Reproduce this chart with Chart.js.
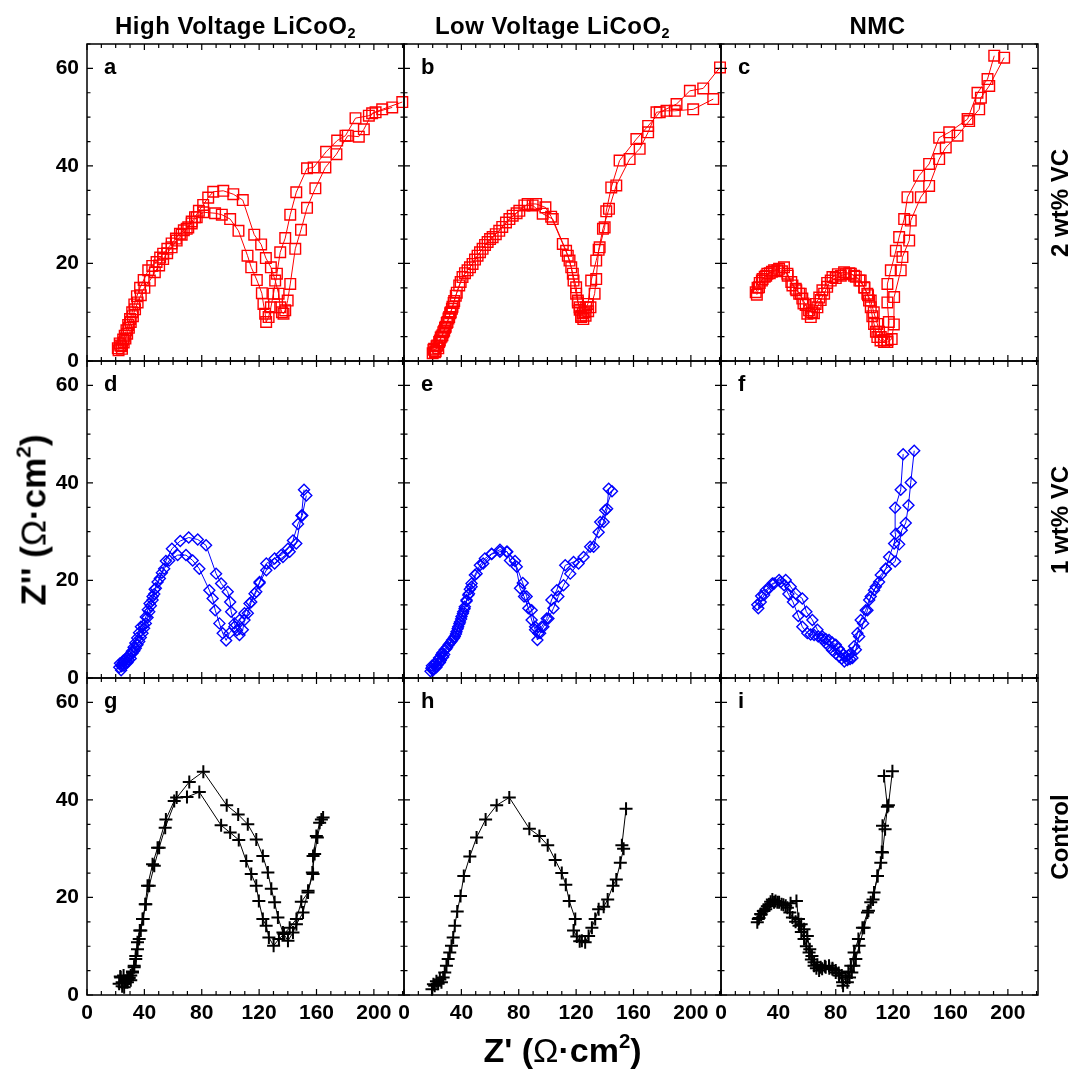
<!DOCTYPE html>
<html><head><meta charset="utf-8">
<script src="https://cdn.jsdelivr.net/npm/chart.js@4.4.0/dist/chart.umd.min.js"></script>
<style>
body{margin:0;background:#fff;width:1075px;height:1072px;position:relative;overflow:hidden;font-family:"Liberation Sans",Arial,sans-serif;}
.t{position:absolute;white-space:nowrap;font-weight:bold;color:#000;line-height:1;}
.rot{transform:translate(-50%,-50%) rotate(-90deg);}
sub{font-size:60%;vertical-align:-0.3em;line-height:0;}
sup{font-size:60%;vertical-align:0.7em;line-height:0;}
.om{font-weight:normal;}
</style></head><body>
<script>
// ---------------- DATA ----------------
const columnTitles = ["High Voltage LiCoO<sub>2</sub>", "Low Voltage LiCoO<sub>2</sub>", "NMC"];
const rowTitles = ["2 wt% VC", "1 wt% VC", "Control"];
const panelLetters = ["a","b","c","d","e","f","g","h","i"];
const xTickLabels = [0, 40, 80, 120, 160, 200];
const yTickLabels = [0, 20, 40, 60];

// Panel a (High V LiCoO2, 2 wt% VC)
const a1 = [[21.5,2.6],[22.8,3.6],[24.0,3.0],[25.2,4.4],[26.3,5.2],[27.5,6.3],[28.7,7.4],[30.0,8.6],[31.5,10.0],[33.0,11.6],[34.8,13.3],[37.0,15.0],[39.5,16.6],[42.7,18.6],[45.5,19.5],[48.5,20.3],[51.0,21.2],[53.1,22.0],[56.0,23.0],[59.0,24.1],[62.0,25.1],[64.8,26.1],[67.5,26.8],[70.6,27.4],[73.0,28.6],[75.3,29.5],[78.0,30.8],[81.0,32.0],[84.5,33.5],[88.0,34.7],[95.0,34.9],[102.0,34.2],[108.6,33.0],[116.6,25.9],[121.4,23.9],[124.7,21.1],[128.2,19.2],[131.2,16.5],[133.6,13.8],[134.7,11.0],[135.9,10.0],[137.0,9.7],[138.2,10.4],[139.9,12.4],[141.7,15.8],[145.2,23.0],[149.2,26.9],[153.4,31.4],[159.2,35.4],[166.2,39.7],[173.9,42.4],[181.8,46.2],[189.5,46.0],[193.0,47.5],[198.8,50.8],[205.8,51.6],[219.8,53.1]];
const a2 = [[22.0,2.2],[23.2,3.2],[24.4,2.5],[25.6,3.8],[26.8,4.6],[28.0,5.6],[29.2,6.8],[30.5,8.0],[32.0,9.2],[33.5,10.6],[35.3,12.0],[37.5,13.5],[40.0,15.0],[43.8,16.5],[47.3,18.2],[50.3,19.6],[53.1,20.9],[55.9,22.1],[59.0,23.3],[62.5,24.7],[66.0,25.9],[69.5,27.1],[73.0,28.2],[76.5,29.5],[81.1,30.5],[89.3,30.3],[94.0,30.0],[99.8,29.1],[105.6,26.7],[111.9,21.6],[114.5,19.2],[118.4,16.6],[121.9,13.9],[123.0,11.7],[124.2,9.7],[124.9,8.0],[126.6,9.0],[128.2,11.0],[130.0,13.8],[132.4,17.9],[134.7,22.3],[138.2,25.2],[141.7,30.0],[145.9,34.6],[153.4,39.5],[158.0,39.7],[166.7,42.9],[174.4,45.2],[180.2,46.2],[187.2,49.8],[196.5,50.3],[201.2,51.0],[212.8,52.0]];
// Panel b (Low V LiCoO2, 2 wt% VC)
const b1 = [[20.0,1.6],[21.0,2.5],[22.1,2.0],[23.2,3.2],[24.5,3.9],[25.6,4.8],[26.8,5.3],[28.0,6.2],[29.1,7.0],[30.3,8.0],[31.5,9.0],[32.6,10.0],[33.8,11.1],[35.0,12.3],[36.1,13.4],[38.5,15.5],[40.8,17.2],[44.3,18.6],[47.8,19.9],[51.3,21.6],[54.8,23.0],[58.3,24.4],[61.8,25.4],[66.4,26.7],[71.1,28.4],[75.8,29.8],[80.4,30.8],[86.2,32.2],[92.1,32.2],[98.6,31.5],[102.6,29.6],[110.7,24.0],[114.2,21.6],[116.6,19.2],[118.2,16.5],[120.0,13.8],[121.2,12.0],[122.4,11.0],[123.5,9.3],[124.7,9.8],[125.9,10.0],[127.0,11.0],[128.2,11.7],[130.5,16.5],[134.0,20.6],[136.4,23.3],[139.9,27.4],[141.0,30.7],[144.5,35.6],[150.3,41.1],[162.0,45.5],[170.2,48.2],[178.3,51.0],[190.0,52.7],[199.3,55.4],[208.6,55.9],[220.3,60.2]];
const b2 = [[20.5,2.3],[21.6,1.8],[22.7,3.0],[23.9,2.6],[25.0,4.2],[26.2,5.0],[27.4,5.9],[28.6,6.8],[29.8,7.8],[31.0,8.7],[32.2,9.8],[33.4,10.7],[34.6,11.9],[36.8,14.0],[39.5,16.2],[42.5,18.0],[46.0,19.2],[49.5,20.8],[53.0,22.3],[56.5,23.8],[60.0,25.0],[64.0,26.0],[68.5,27.5],[73.5,29.1],[78.5,30.3],[83.9,31.9],[89.7,31.9],[96.7,30.2],[103.7,29.1],[113.0,22.6],[115.4,20.6],[117.7,17.9],[120.0,15.1],[121.2,12.4],[122.5,10.5],[123.5,9.0],[125.0,8.6],[126.6,9.3],[128.4,10.2],[130.0,11.0],[132.9,13.8],[134.0,16.8],[135.7,22.8],[138.7,27.1],[142.9,31.2],[148.0,36.0],[157.3,41.4],[164.3,43.5],[170.2,46.9],[176.0,51.0],[183.0,51.3],[188.8,51.3],[201.6,51.6],[215.6,53.7]];
// Panel c (NMC, 2 wt% VC)
const c1 = [[24.2,14.1],[25.5,15.0],[27.0,16.0],[29.0,16.8],[31.5,17.5],[34.0,18.0],[37.0,18.6],[40.5,18.9],[43.9,19.2],[46.5,17.5],[49.8,15.5],[52.5,14.5],[55.6,13.8],[57.5,11.8],[60.2,9.7],[62.6,9.0],[64.8,9.8],[67.2,11.0],[69.5,12.5],[71.9,13.8],[74.0,15.2],[76.5,16.5],[80.0,17.0],[83.5,17.5],[87.0,17.8],[90.5,17.9],[94.0,17.3],[97.4,16.5],[100.0,15.0],[102.0,13.8],[103.2,12.4],[104.4,11.0],[105.5,9.2],[106.7,7.6],[108.0,6.0],[109.0,4.9],[111.2,4.2],[113.7,3.9],[116.0,4.3],[117.0,8.0],[116.0,12.0],[116.0,15.8],[118.4,18.6],[121.9,22.6],[124.2,25.4],[127.7,29.1],[130.0,33.6],[138.1,38.0],[145.1,40.4],[152.1,45.8],[159.1,46.9],[171.9,49.6],[178.8,55.0],[185.8,57.8],[190.5,62.6]];
const c2 = [[25.0,13.6],[26.5,15.1],[28.5,16.5],[30.5,17.3],[32.3,17.9],[35.5,18.3],[39.3,18.6],[42.5,18.4],[46.3,17.9],[49.0,16.2],[52.1,14.8],[54.5,13.8],[56.7,12.8],[59.0,11.5],[61.4,10.4],[63.5,10.0],[66.0,11.7],[68.5,13.0],[70.7,14.5],[74.0,16.0],[77.7,17.2],[81.5,17.8],[85.8,18.2],[89.5,18.0],[92.8,17.5],[96.5,16.5],[99.8,15.1],[102.5,13.5],[104.4,12.4],[106.5,10.0],[109.0,7.6],[110.2,6.0],[111.4,4.9],[113.5,4.3],[116.0,3.9],[119.0,4.5],[120.5,7.5],[120.7,13.1],[125.3,18.6],[126.5,21.3],[131.2,24.7],[132.3,28.8],[139.3,33.6],[145.1,35.9],[152.1,41.4],[156.7,43.8],[164.9,46.2],[173.0,49.2],[180.0,51.6],[181.2,54.0],[187.0,56.4],[197.4,62.2]];
// Panel d (High V LiCoO2, 1 wt% VC)
const d1 = [[22.5,2.2],[23.8,1.6],[24.7,3.1],[25.8,2.5],[27.0,3.7],[28.2,3.2],[29.4,4.4],[30.5,4.0],[31.7,5.1],[33.0,5.6],[34.0,6.1],[35.2,6.8],[36.4,7.5],[37.5,8.3],[38.7,9.2],[39.8,10.2],[41.0,11.2],[42.2,12.4],[43.4,13.6],[44.5,14.8],[45.7,16.0],[46.9,17.2],[48.0,18.4],[50.8,20.4],[53.8,22.4],[57.3,24.1],[63.2,25.2],[69.0,25.2],[73.7,24.1],[78.3,22.4],[85.3,18.0],[87.6,16.3],[89.4,13.9],[92.3,11.2],[94.6,9.2],[97.0,7.7],[99.3,9.2],[102.8,10.5],[106.3,11.9],[109.8,13.3],[113.3,15.3],[116.8,17.3],[120.3,19.5],[125.0,22.1],[130.8,23.5],[136.6,24.8],[141.3,25.9],[145.9,27.6],[149.5,33.3],[151.3,38.6]];
const d2 = [[23.0,3.0],[24.2,2.4],[25.4,3.6],[26.6,3.0],[27.8,4.2],[29.0,3.8],[30.2,4.9],[31.3,5.5],[32.5,6.3],[33.7,7.2],[35.0,8.2],[36.3,9.3],[37.6,10.5],[39.5,10.8],[41.0,12.5],[42.4,14.0],[43.6,15.3],[45.7,16.7],[47.2,18.2],[49.2,19.7],[52.2,21.6],[55.0,24.0],[59.2,26.5],[65.0,28.1],[70.9,28.8],[77.2,28.4],[83.0,27.2],[90.0,21.4],[93.5,19.4],[98.1,17.7],[99.8,15.6],[100.5,13.6],[102.8,11.2],[104.5,9.8],[106.3,8.8],[108.6,9.9],[109.8,11.9],[112.1,13.3],[114.5,15.6],[118.0,17.7],[120.3,19.7],[125.0,23.5],[130.8,24.5],[135.4,25.2],[140.1,26.5],[143.6,28.2],[147.1,31.6],[150.1,33.3],[152.9,37.4]];
// Panel e (Low V LiCoO2, 1 wt% VC)
const e1 = [[18.5,1.4],[19.1,2.0],[20.2,1.6],[21.4,2.7],[22.6,2.2],[23.8,3.7],[25.0,3.2],[26.1,4.8],[27.3,4.3],[28.4,5.8],[30.0,6.3],[31.9,7.1],[33.6,7.8],[35.4,8.5],[36.6,9.5],[37.8,10.5],[39.0,11.5],[40.1,12.6],[41.3,13.6],[42.4,14.6],[43.6,15.8],[44.8,17.0],[45.9,18.2],[47.1,19.4],[50.6,21.4],[55.2,23.5],[61.1,25.4],[66.9,25.9],[71.6,25.9],[77.4,24.0],[80.9,18.4],[83.7,16.7],[86.7,14.3],[89.0,11.9],[91.4,9.9],[93.0,7.8],[94.9,9.2],[97.2,10.5],[100.7,12.2],[104.2,14.3],[107.6,16.7],[111.2,19.0],[115.9,21.4],[121.7,23.5],[129.8,26.9],[135.7,29.9],[139.2,32.0],[141.6,34.7],[142.7,38.8]];
const e2 = [[19.5,2.5],[20.8,1.8],[22.0,3.0],[23.2,2.6],[24.4,4.1],[25.6,3.6],[26.8,5.2],[28.0,4.8],[29.5,6.0],[31.2,6.8],[33.0,7.5],[34.8,8.2],[36.2,9.0],[37.4,10.1],[38.6,11.1],[39.8,12.1],[41.0,13.2],[42.2,14.2],[43.6,16.0],[45.3,17.3],[47.1,18.7],[49.4,21.1],[52.9,23.1],[56.4,24.5],[61.1,25.5],[66.9,26.3],[72.0,25.9],[73.9,24.1],[78.6,22.8],[82.8,19.5],[85.5,16.7],[89.0,13.9],[91.4,10.5],[93.7,9.2],[96.0,10.5],[99.5,12.2],[102.8,16.0],[106.5,18.0],[112.4,23.1],[118.2,23.8],[125.2,24.8],[132.2,26.9],[136.8,32.0],[140.3,34.4],[145.0,38.3]];
// Panel f (NMC, 1 wt% VC)
const f1 = [[26.0,14.3],[27.7,15.6],[30.0,17.0],[33.5,18.4],[37.0,19.4],[40.5,20.1],[45.1,20.1],[48.6,18.7],[52.1,17.3],[56.7,16.3],[59.5,13.6],[63.7,11.9],[67.2,9.9],[70.7,8.5],[73.0,8.0],[75.3,7.8],[77.5,7.3],[80.0,6.8],[82.0,6.0],[83.5,5.4],[85.2,4.8],[87.0,4.4],[88.8,4.6],[90.5,5.1],[92.8,6.5],[95.1,9.2],[97.4,11.9],[100.9,13.9],[103.3,16.0],[106.7,18.0],[110.2,19.7],[114.9,22.4],[117.2,24.8],[120.7,27.6],[121.9,29.6],[121.4,34.9],[125.3,38.6],[127.0,45.9]];
const f2 = [[25.3,15.0],[28.0,16.8],[31.2,18.0],[35.8,19.4],[41.6,19.7],[44.0,19.0],[47.0,17.2],[50.2,15.6],[53.9,12.7],[56.7,10.5],[60.2,9.2],[62.5,8.9],[64.9,8.8],[67.8,8.5],[70.7,8.0],[73.0,7.2],[75.3,6.5],[77.5,5.7],[80.0,5.0],[82.3,4.4],[84.2,4.0],[86.0,3.4],[88.1,3.7],[90.0,3.9],[91.6,4.1],[94.0,5.8],[96.3,8.5],[99.1,11.2],[102.1,13.9],[104.4,16.7],[107.9,18.7],[111.4,21.1],[114.9,22.4],[121.4,23.9],[124.2,27.4],[126.0,30.3],[128.8,31.8],[130.7,35.4],[132.3,40.1],[134.7,46.6]];
// Panel g (High V LiCoO2, Control)
const g1 = [[23.5,3.6],[24.5,2.6],[25.5,4.0],[27.0,2.6],[28.2,3.3],[29.4,3.6],[30.5,3.0],[31.7,4.6],[32.9,6.0],[34.0,7.4],[35.2,9.4],[36.4,11.5],[37.5,13.2],[39.2,15.6],[40.6,18.6],[42.2,22.4],[45.7,26.8],[49.2,30.2],[55.0,36.0],[60.8,39.8],[71.3,43.7],[81.1,45.8],[97.4,38.9],[105.4,37.0],[112.1,35.0],[118.0,31.9],[122.6,28.5],[126.1,25.1],[128.5,21.8],[130.8,19.0],[133.1,15.9],[136.6,12.8],[140.1,11.1],[143.6,12.8],[146.0,14.5],[150.6,16.9],[154.1,21.4],[157.6,24.8],[157.6,28.5],[159.9,32.6],[162.2,35.3],[164.6,36.4]];
const g2 = [[22.4,2.3],[23.2,3.8],[24.5,1.8],[25.9,1.6],[27.0,2.8],[28.2,2.6],[29.3,3.4],[30.5,4.0],[31.7,4.8],[32.9,5.7],[34.0,8.0],[35.2,10.8],[36.8,13.2],[38.7,15.6],[41.0,18.6],[43.4,22.4],[46.9,26.5],[50.3,30.2],[54.5,34.3],[62.5,40.5],[69.7,40.6],[78.3,41.6],[93.5,34.8],[99.8,33.3],[105.8,31.8],[111.0,27.5],[114.5,24.8],[118.0,22.4],[119.8,19.3],[122.6,15.6],[124.9,14.2],[126.8,11.8],[130.1,10.1],[133.8,11.5],[137.3,12.5],[141.3,13.8],[146.0,15.6],[149.4,19.1],[154.1,21.0],[157.1,25.1],[158.7,28.9],[160.6,32.3],[163.4,36.0]];
// Panel h (Low V LiCoO2, Control)
const h1 = [[19.5,1.2],[20.5,2.2],[21.4,1.9],[22.6,2.8],[23.8,2.3],[25.0,3.2],[26.1,2.6],[27.3,3.6],[28.4,4.6],[29.6,6.0],[30.8,7.4],[31.9,8.7],[33.1,10.1],[34.3,11.8],[35.4,14.2],[37.1,17.1],[39.4,20.3],[41.7,24.4],[45.9,28.4],[50.6,32.3],[56.9,36.0],[64.6,38.9],[73.4,40.5],[87.4,34.1],[94.4,32.6],[100.2,30.7],[105.4,27.7],[110.0,25.0],[112.8,22.6],[115.2,19.3],[119.4,15.6],[118.2,13.2],[120.5,12.0],[122.5,11.0],[124.0,11.1],[126.3,10.8],[128.7,12.1],[131.0,13.8],[133.3,15.6],[135.7,17.6],[139.2,18.1],[142.0,19.6],[145.7,22.4],[148.0,23.7],[150.8,27.1],[153.1,30.0],[151.9,30.7],[154.8,38.2]];
// Panel i (NMC, Control)
const i1 = [[25.3,14.9],[26.5,15.8],[27.7,16.6],[29.5,17.2],[31.2,17.6],[33.5,18.6],[35.8,19.6],[38.0,19.3],[40.5,19.0],[43.5,18.5],[46.3,17.9],[48.0,16.9],[49.8,15.9],[52.0,15.0],[54.4,14.2],[56.0,12.9],[57.9,11.5],[59.5,10.0],[61.4,8.7],[63.0,7.3],[64.9,6.0],[66.5,5.5],[68.4,5.0],[70.5,5.4],[73.0,5.7],[75.5,5.5],[77.7,5.3],[80.0,4.6],[82.3,4.0],[84.7,2.6],[87.0,3.6],[88.8,4.8],[90.5,6.0],[92.8,8.7],[95.8,11.5],[98.6,13.8],[102.1,16.9],[104.4,19.0],[106.7,21.0],[109.1,24.4],[111.4,27.1],[112.1,29.3],[112.6,34.7],[116.7,38.9],[119.5,45.9]];
const i2 = [[26.0,15.6],[28.0,16.5],[30.0,17.3],[32.3,18.2],[34.6,19.1],[37.0,19.0],[39.3,19.0],[42.2,18.6],[45.1,18.3],[48.5,18.8],[52.6,19.3],[54.0,15.6],[55.9,14.5],[57.9,13.5],[60.2,12.1],[61.9,9.4],[63.4,8.0],[64.9,6.7],[67.2,6.2],[69.5,5.7],[72.4,5.9],[75.3,6.0],[77.7,5.5],[80.0,5.0],[82.1,4.5],[84.2,4.0],[85.1,1.9],[88.1,2.6],[89.6,3.6],[91.2,4.6],[92.6,6.0],[94.0,7.4],[96.3,10.1],[99.8,13.8],[102.8,17.3],[106.0,19.6],[109.1,24.4],[112.6,29.2],[114.4,34.0],[116.0,38.6],[113.7,44.9]];

// ---------------- LAYOUT / STYLE ----------------
const FONT = '"Liberation Sans", Arial, sans-serif';
const PL = [87, 404, 721], PT = [44, 361, 678], PW = 317, PH = 317;
const PAD = 30, YAXW = 60, XAXH = 34;
const X_MIN = 0, X_MAX = 221, Y_MIN = 0, Y_MAX = 65;
const X_MINOR = 10, Y_MINOR = 5;
const TITLE_DX = [-10, -10, -2];

const markerStyles = {
  square:  {color:'#ff0000', pointStyle:'rect',    radius:7.5, pbw:1.4},
  diamond: {color:'#0000ff', pointStyle:'rectRot', radius:5.5, pbw:1.4},
  cross:   {color:'#000000', pointStyle:'cross',   radius:6.5, pbw:2}
};

const panels = [
  {col:0,row:0,series:[a1,a2],m:'square'},
  {col:1,row:0,series:[b1,b2],m:'square'},
  {col:2,row:0,series:[c1,c2],m:'square'},
  {col:0,row:1,series:[d1,d2],m:'diamond'},
  {col:1,row:1,series:[e1,e2],m:'diamond'},
  {col:2,row:1,series:[f1,f2],m:'diamond'},
  {col:0,row:2,series:[g1,g2],m:'cross'},
  {col:1,row:2,series:[h1],m:'cross'},
  {col:2,row:2,series:[i1,i2],m:'cross'}
];

const frameTicks = {
  id:'frameTicks',
  beforeDatasetsDraw(chart){
    const {ctx, chartArea:{left,right,top,bottom}} = chart;
    const xs = chart.scales.x, ys = chart.scales.y;
    ctx.save();
    ctx.strokeStyle = '#000';
    ctx.lineWidth = 1.2;
    ctx.beginPath();
    for (let v = X_MIN; v <= X_MAX; v += X_MINOR) {
      const px = xs.getPixelForValue(v);
      const len = xTickLabels.includes(v) ? 6 : 4;
      ctx.moveTo(px, bottom); ctx.lineTo(px, bottom - len);
      ctx.moveTo(px, top); ctx.lineTo(px, top + len);
    }
    for (let v = Y_MIN; v <= Y_MAX; v += Y_MINOR) {
      const py = ys.getPixelForValue(v);
      const len = yTickLabels.includes(v) ? 6 : 3.5;
      ctx.moveTo(left, py); ctx.lineTo(left + len, py);
      ctx.moveTo(right, py); ctx.lineTo(right - len, py);
    }
    ctx.stroke();
    ctx.lineWidth = 1.5;
    ctx.strokeRect(left, top, right - left, bottom - top);
    ctx.restore();
  }
};

const tickFont = {family: FONT, size: 21, weight: 'bold'};

panels.forEach((p, idx) => {
  const st = markerStyles[p.m];
  const showX = p.row === 2, showY = p.col === 0;
  const extraL = showY ? YAXW : 0;
  const extraB = showX ? XAXH : 0;
  const cw = PW + 2*PAD + extraL, ch = PH + 2*PAD + extraB;
  const cv = document.createElement('canvas');
  cv.width = cw; cv.height = ch;
  cv.style.cssText = `position:absolute;left:${PL[p.col]-PAD-extraL}px;top:${PT[p.row]-PAD}px;width:${cw}px;height:${ch}px;`;
  document.body.appendChild(cv);
  new Chart(cv, {
    type: 'scatter',
    data: {
      datasets: p.series.map(s => ({
        data: s.map(([x, y]) => ({x, y})),
        showLine: true,
        borderColor: st.color,
        borderWidth: 1,
        pointStyle: st.pointStyle,
        pointRadius: st.radius,
        pointHoverRadius: st.radius,
        pointBorderColor: st.color,
        pointBackgroundColor: 'rgba(0,0,0,0)',
        pointBorderWidth: st.pbw,
        tension: 0,
        clip: false
      }))
    },
    options: {
      responsive: false,
      animation: false,
      devicePixelRatio: 1,
      events: [],
      layout: {padding: PAD},
      plugins: {legend: {display: false}, tooltip: {enabled: false}},
      scales: {
        x: {
          type: 'linear', min: X_MIN, max: X_MAX, position: 'bottom',
          display: showX,
          grid: {display: false, drawTicks: false},
          border: {display: false},
          afterBuildTicks: s => { s.ticks = xTickLabels.map(v => ({value: v})); },
          afterFit: s => { s.height = showX ? XAXH : 0; },
          ticks: {autoSkip: false, maxRotation: 0, color: '#000', font: tickFont, padding: 6}
        },
        y: {
          type: 'linear', min: Y_MIN, max: Y_MAX, position: 'left',
          display: showY,
          grid: {display: false, drawTicks: false},
          border: {display: false},
          afterBuildTicks: s => { s.ticks = yTickLabels.map(v => ({value: v})); },
          afterFit: s => { s.width = showY ? YAXW : 0; },
          ticks: {autoSkip: false, color: '#000', font: tickFont, padding: 8}
        }
      }
    },
    plugins: [frameTicks]
  });
  const lt = document.createElement('div');
  lt.className = 't';
  lt.style.cssText = `left:${PL[p.col]+17}px;top:${PT[p.row]+12}px;font-size:22px;`;
  lt.textContent = panelLetters[idx];
  document.body.appendChild(lt);
});

columnTitles.forEach((txt, c) => {
  const d = document.createElement('div');
  d.className = 't';
  d.style.cssText = `left:${PL[c] + PW/2 + TITLE_DX[c]}px;top:14px;font-size:24px;letter-spacing:0.5px;transform:translateX(-50%);`;
  d.innerHTML = txt;
  document.body.appendChild(d);
});
rowTitles.forEach((txt, r) => {
  const d = document.createElement('div');
  d.className = 't rot';
  d.style.cssText = `left:1060px;top:${PT[r] + PH/2}px;font-size:24px;`;
  d.textContent = txt;
  document.body.appendChild(d);
});
const yTitle = document.createElement('div');
yTitle.className = 't rot';
yTitle.style.cssText = 'left:33px;top:520px;font-size:35px;';
yTitle.innerHTML = "Z'' (<span class='om'>Ω</span>·cm<sup>2</sup>)";
document.body.appendChild(yTitle);
const xTitle = document.createElement('div');
xTitle.className = 't';
xTitle.style.cssText = `left:${(PL[0] + PL[2] + PW)/2}px;top:1033px;font-size:34px;transform:translateX(-50%);`;
xTitle.innerHTML = "Z' (<span class='om'>Ω</span>·cm<sup>2</sup>)";
document.body.appendChild(xTitle);
</script>
</body></html>
